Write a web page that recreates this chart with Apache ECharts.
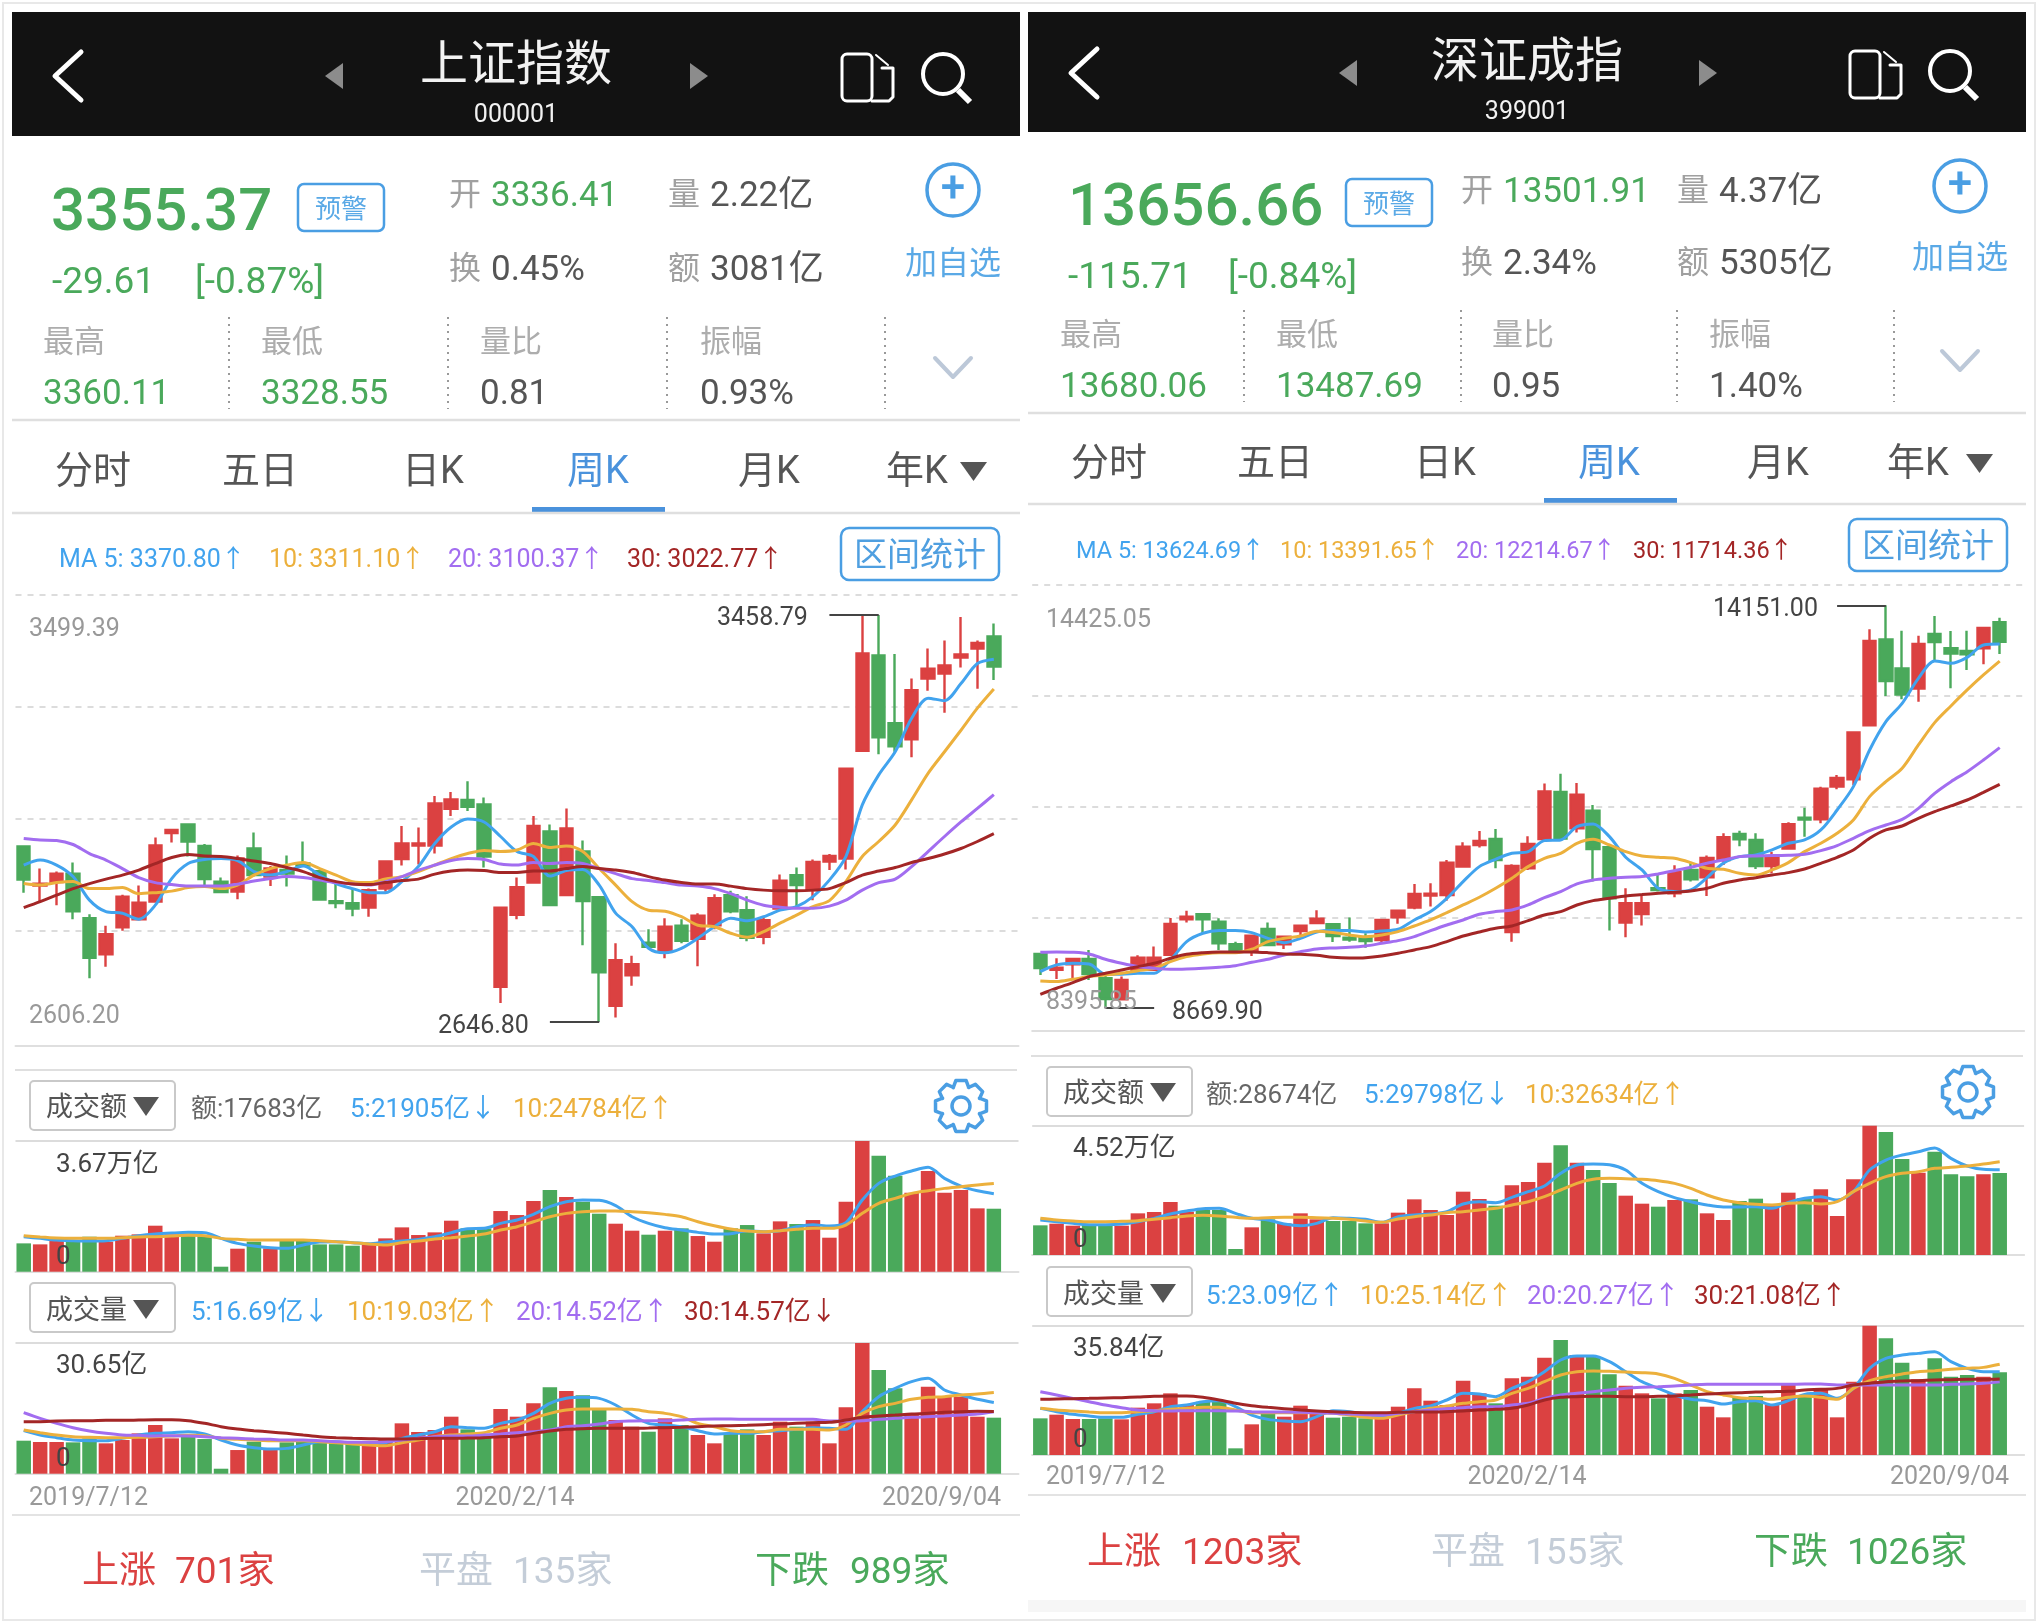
<!DOCTYPE html>
<html>
<head>
<meta charset="utf-8">
<style>html,body{margin:0;padding:0;background:#fff}#main{width:2039px;height:1624px}</style>
<script src="https://cdn.jsdelivr.net/npm/echarts@6/dist/echarts.min.js"></script>
</head>
<body>
<div id="main"></div>
<script type="text/javascript">
// weekly dates, 60 bars
var dates = ['2019/7/12','2019/7/19','2019/7/26','2019/8/2','2019/8/9','2019/8/16','2019/8/23','2019/8/30','2019/9/6','2019/9/13',
 '2019/9/20','2019/9/27','2019/9/30','2019/10/11','2019/10/18','2019/10/25','2019/11/1','2019/11/8','2019/11/15','2019/11/22',
 '2019/11/29','2019/12/6','2019/12/13','2019/12/20','2019/12/27','2020/1/3','2020/1/10','2020/1/17','2020/1/23','2020/2/7',
 '2020/2/14','2020/2/21','2020/2/28','2020/3/6','2020/3/13','2020/3/20','2020/3/27','2020/4/3','2020/4/10','2020/4/17',
 '2020/4/24','2020/4/30','2020/5/8','2020/5/15','2020/5/22','2020/5/29','2020/6/5','2020/6/12','2020/6/19','2020/6/24',
 '2020/7/3','2020/7/10','2020/7/17','2020/7/24','2020/7/31','2020/8/7','2020/8/14','2020/8/21','2020/8/28','2020/9/04'];

// 上证指数 [open, close, low, high]
var shKline = [
 [2997,2931,2905,2997],[2919,2923,2887,2953],[2926,2943,2880,2947],[2943,2868,2852,2965],[2854,2775,2734,2862],
 [2782,2822,2757,2839],[2836,2897,2829,2901],[2852,2885,2850,2919],[2887,2999,2885,3015],[3024,3030,3005,3032],
 [3041,3007,2977,3042],[2998,2932,2920,3002],[2927,2906,2905,2935],[2907,2973,2892,2979],[2993,2940,2937,3025],
 [2937,2953,2918,2958],[2950,2943,2917,2979],[2963,2959,2957,3007],[2948,2891,2890,2950],[2888,2884,2874,2922],
 [2884,2873,2858,2913],[2875,2910,2857,2913],[2913,2967,2907,2969],[2972,3003,2959,3038],[2999,3003,2961,3035],
 [2999,3083,2983,3098],[3072,3091,3058,3106],[3090,3076,3068,3127],[3081,2977,2955,3095],[2717,2875,2685,2875],
 [2861,2916,2852,2935],[2925,3038,2925,3058],[3027,2880,2878,3041],[2900,3033,2900,3073],[2987,2888,2800,3009],
 [2896,2746,2646.8,2897],[2679,2770,2656,2804],[2740,2762,2719,2779],[2805,2797,2795,2832],[2787,2837,2774,2854],
 [2839,2809,2804,2852],[2813,2859,2758,2864],[2840,2894,2832,2902],[2900,2868,2864,2909],[2870,2815,2808,2898],
 [2817,2850,2802,2858],[2873,2929,2872,2941],[2940,2920,2874,2955],[2910,2966,2890,2971],[2967,2978,2950,2982],
 [2973,3152,2951,3152],[3188,3382,3188,3458.79],[3378,3215,3181,3458.79],[3243,3197,3186,3381],[3211,3309,3175,3332],
 [3332,3352,3308,3392],[3342,3358,3264,3408],[3374,3380,3354,3455],[3392,3403,3312,3408],[3416,3356,3329,3442]];
var shMa5 = [2960,2970,2960,2937,2890,2867,2864,2852,2880,2933,2963,2971,2973,2969,2947,2940,2947,2958,2940,2923,
 2913,2905,2905,2927,2957,3003,3036,3052,3046,3017,2987,2977,2938,2949,2951,2920,2864,2837,2794,2785,
 2794,2814,2837,2854,2849,2857,2870,2877,2897,2930,2977,3080,3140,3186,3253,3293,3288,3322,3362,3370.8];
var shMa10 = [2923,2920,2925,2927,2913,2913,2915,2903,2905,2908,2915,2917,2913,2920,2940,2953,2960,2965,2953,2940,
 2927,2925,2932,2937,2947,2960,2973,2983,2989,2987,2990,3003,2995,2998,2987,2953,2920,2887,2870,2868,
 2857,2840,2837,2824,2816,2827,2844,2860,2877,2889,2927,2977,3007,3040,3090,3143,3186,3229,3273,3311.1];
var shMa20 = [3013,3010,3009,3001,2983,2970,2953,2935,2925,2921,2918,2918,2918,2922,2928,2933,2937,2935,2930,2925,
 2922,2920,2927,2937,2950,2960,2969,2973,2971,2962,2960,2965,2963,2965,2963,2953,2943,2933,2929,2925,
 2920,2918,2913,2903,2890,2880,2876,2874,2874,2878,2890,2910,2925,2932,2957,2987,3017,3046,3073,3100.37];
var shMa30 = [2875,2887,2900,2913,2923,2932,2940,2950,2963,2975,2981,2978,2977,2973,2968,2963,2955,2947,2935,2927,
 2922,2921,2925,2929,2932,2942,2948,2950,2949,2945,2945,2948,2948,2953,2957,2953,2950,2945,2937,2930,
 2925,2922,2922,2918,2913,2910,2909,2909,2910,2913,2925,2940,2948,2955,2965,2973,2982,2993,3007,3022.77];
var shAmount = [7956,7675,8611,8892,9828,8424,10109,10483,12917,10483,10764,10296,1404,6458,8424,6552,9173,8892,7675,7675,
 7301,7675,9360,12449,10296,11045,14321,12168,12168,17035,15912,19843,22932,20966,19656,16286,13478,11513,10390,11513,
 12168,10015,8424,12168,13104,10764,14134,13385,14508,9547,19656,36700,32573,26957,22183,28267,22183,22932,17784,17683];
var shAmountMa5 = [9828,9360,8892,8705,8611,8705,9360,10109,10577,10858,11045,10951,9360,7956,7207,6739,6552,7488,8330,8424,
 8143,7862,8330,8611,9079,9828,10951,12074,12168,13572,14508,16099,18252,19656,20124,20030,18533,15444,13572,12355,
 11700,11045,10577,10670,11513,11232,11513,12636,13198,12823,13759,20124,24804,26863,28267,29297,26208,24055,22745,21905];
var shAmountMa10 = [10109,9734,9454,9360,9360,9360,9547,9734,9828,10015,10202,10109,9360,9079,8892,8892,8892,8892,8705,8424,
 8143,7769,7488,8143,8611,9173,9547,10015,10577,11700,12636,14040,15444,16380,16848,17035,17035,16848,16567,16099,
 15444,14040,12917,11981,11419,11232,11513,11887,12168,12168,13104,16380,19188,20592,21996,22745,23400,23868,24336,24784];
var shVolume = [7.74,7.43,7.43,7.35,8.29,7.12,7.90,9.46,11.42,8.29,8.68,8.13,1.17,5.55,7.51,5.55,7.35,7.90,7.51,7.12,
 6.96,6.96,7.90,11.81,9.78,10.24,13.37,10.40,9.07,15.17,13.37,16.50,20.25,19.39,18.38,14.94,12.59,11.03,9.85,12.98,
 11.42,9.07,7.12,9.46,10.40,9.07,12.20,11.03,12.20,7.12,15.56,30.65,24.32,20.02,14.15,20.41,18.06,18.06,13.37,13.14];
var shVolMa5 = [10.09,9.07,8.45,7.90,7.74,7.74,8.29,9.07,9.46,9.62,9.85,9.31,7.90,6.73,6.10,5.79,5.94,6.73,7.51,7.51,
 7.12,7.12,7.27,8.29,9.07,9.85,11.03,10.79,10.64,11.81,12.59,14.15,16.50,17.67,17.91,17.67,16.11,13.76,11.81,11.42,
 11.03,10.09,9.31,9.46,9.46,9.85,10.09,10.40,10.79,10.64,10.40,14.55,18.06,20.02,21.58,22.37,19.63,18.46,17.44,16.69];
var shVolMa10 = [10.24,9.62,9.07,8.68,8.52,8.45,8.45,8.52,8.68,8.84,8.99,8.91,8.29,8.05,7.90,7.74,7.74,7.74,7.51,7.27,
 6.96,6.73,6.57,7.27,7.90,8.68,9.07,9.31,9.62,10.64,11.42,12.98,14.15,14.94,15.17,15.17,15.17,15.09,14.55,14.15,
 13.37,11.81,11.03,10.09,9.85,9.85,10.40,10.40,10.40,10.24,11.42,14.15,15.72,16.50,17.44,17.91,18.06,18.46,18.69,19.03];
var shVolMa20 = [14.31,12.98,11.81,10.79,10.01,9.46,9.07,8.99,8.84,8.91,8.84,8.68,8.45,8.29,8.13,8.05,7.90,7.90,7.74,7.51,
 7.35,7.35,7.51,7.90,8.29,8.68,8.84,8.84,9.07,9.31,9.62,9.85,10.24,11.03,11.26,11.65,12.20,12.36,12.43,12.43,
 12.59,12.75,12.82,12.82,12.75,12.75,12.75,12.75,12.75,12.36,12.36,12.43,12.75,12.98,13.22,13.37,13.53,13.76,14.00,14.52];
var shVolMa30 = [12.20,12.20,12.36,12.43,12.43,12.51,12.51,12.59,12.67,12.67,12.43,11.81,11.03,10.48,10.09,9.78,9.46,9.07,8.68,8.45,
 8.29,8.21,8.13,8.13,8.21,8.29,8.29,8.37,8.45,8.68,8.84,9.46,10.01,10.40,10.56,10.64,10.64,10.64,10.71,10.79,
 10.87,11.03,11.18,11.26,11.34,11.50,11.65,11.81,11.96,12.04,12.59,13.22,13.53,13.76,14.00,14.15,14.39,14.55,14.62,14.57];

// 深证成指 [open, close, low, high]
var szKline = [
 [9405,9215,9119,9423],[9188,9219,9065,9346],[9265,9337,9074,9351],[9337,9133,9051,9460],[9074,8793,8669.9,9142],
 [8788,9051,8770,9097],[9188,9355,9178,9387],[9188,9355,9178,9505],[9392,9814,9383,9895],[9877,9913,9832,9995],
 [9945,9877,9678,9950],[9845,9550,9460,9891],[9537,9446,9437,9573],[9460,9655,9378,9659],[9746,9528,9514,9832],
 [9537,9641,9473,9650],[9718,9791,9664,9805],[9827,9886,9823,10000],[9809,9650,9569,9814],[9628,9600,9573,9900],
 [9618,9582,9491,9687],[9596,9868,9551,9877],[9904,9995,9818,10004],[10036,10222,10013,10358],[10199,10226,10050,10367],
 [10208,10648,10131,10685],[10594,10866,10580,10925],[10889,10943,10853,11079],[10971,10685,10571,11107],[9705,10603,9573,10626],
 [10571,10903,10549,11007],[10971,11619,10966,11724],[11610,10975,10966,11860],[11116,11574,11057,11733],[11356,10834,10390,11433],
 [10857,10163,9723,10857],[9832,10095,9632,10299],[9950,10095,9791,10208],[10299,10276,10254,10480],[10231,10517,10177,10612],
 [10549,10422,10390,10639],[10449,10712,10195,10744],[10685,10993,10617,11048],[11039,10966,10871,11084],[10957,10603,10562,11048],
 [10603,10730,10503,10798],[10839,11170,10834,11197],[11261,11234,11002,11397],[11238,11656,11184,11683],[11683,11801,11647,11842],
 [11783,12422,11705,12422],[12518,13666,12513,13824],[13688,13121,12917,14151],[13293,12935,12872,13806],[13017,13625,12840,13738],
 [13761,13652,13384,14006],[13566,13493,13021,13802],[13529,13484,13271,13806],[13566,13842,13348,13861],[13920,13656,13489,13983]];
var szMa5 = [9165,9256,9278,9269,9129,9129,9142,9142,9324,9573,9687,9723,9723,9696,9618,9559,9618,9705,9723,9723,
 9705,9718,9741,9868,9982,10163,10390,10594,10694,10775,10798,10948,10957,11138,11175,11002,10721,10549,10299,10254,
 10276,10444,10639,10730,10753,10821,10912,10957,11093,11365,11683,12182,12568,12817,13157,13393,13362,13443,13611,13624.69];
var szMa10 = [9038,9029,9060,9097,9119,9142,9178,9210,9301,9369,9405,9423,9423,9469,9573,9618,9650,9714,9696,9664,
 9641,9664,9709,9786,9868,9968,10072,10177,10299,10435,10594,10707,10775,10912,10966,10889,10798,10739,10721,10707,
 10648,10571,10558,10503,10480,10549,10648,10798,10912,11048,11229,11547,11751,11932,12250,12554,12781,12999,13203,13391.65];
var szMa20 = [9428,9433,9428,9405,9333,9278,9233,9210,9197,9201,9210,9224,9246,9292,9333,9392,9437,9473,9487,9496,
 9514,9550,9587,9641,9723,9800,9868,9945,9982,10004,10072,10172,10254,10358,10412,10435,10449,10458,10494,10539,
 10585,10639,10685,10730,10739,10744,10748,10762,10812,10880,10980,11084,11161,11238,11388,11592,11751,11887,12046,12214.67];
var szMa30 = [8856,8938,9015,9097,9142,9188,9233,9278,9346,9401,9423,9433,9433,9433,9423,9405,9401,9387,9360,9351,
 9355,9378,9414,9460,9505,9573,9650,9705,9755,9786,9859,9936,9982,10072,10131,10163,10195,10213,10231,10245,
 10263,10299,10367,10412,10444,10480,10512,10562,10639,10721,10821,10980,11093,11147,11252,11342,11420,11501,11606,11714.36];
var szAmount = [10369,10951,10252,10485,10485,10252,14563,15029,18524,15145,15728,15728,2097,9670,12466,11068,14563,12466,11883,11883,
 11068,11068,14796,19456,15728,13980,22135,19572,17242,24349,25514,32271,38329,32271,29708,25164,20737,17941,16893,19223,
 19456,14563,12233,18873,19689,17708,21786,19922,22951,13631,26446,45200,42989,33552,28776,36115,28193,27494,28193,28674];
var szAmountMa5 = [12233,11650,11068,10602,10602,10835,11650,12815,14330,15378,16194,16310,14563,12815,12233,10835,10252,11068,13048,12815,
 12466,11417,13398,13980,14330,15145,17825,18640,18291,20155,22135,24116,28543,31455,31805,31572,29708,25048,22135,20038,
 18640,17475,16776,16776,16893,16310,18407,19805,20388,19223,22135,29708,33203,34950,36115,37397,33785,31106,29941,29798];
var szAmountMa10 = [12815,12233,11883,11650,11650,11767,12000,12466,13048,13631,13864,13631,13165,12815,13048,13165,13165,13048,12815,12466,
 11883,11417,12582,13398,13980,14796,15145,15728,16310,17475,18640,20388,22718,25048,26446,26795,26679,26446,25980,25048,
 23300,20970,19223,18291,17708,17475,18058,18291,17825,18640,22135,25048,27378,28543,29125,30290,30640,31106,31805,32634];
var szVolume = [10.16,11.18,9.98,9.98,10.16,9.88,13.12,14.32,17.09,13.86,14.78,14.78,1.85,8.50,11.55,10.62,13.67,11.55,10.35,10.62,
 10.16,10.16,13.39,18.47,15.06,13.86,20.60,17.09,14.32,21.25,21.71,26.97,31.87,27.71,27.25,22.35,19.21,17.09,15.70,17.09,
 18.01,13.39,10.44,15.98,16.35,13.86,19.40,16.17,18.47,10.44,20.32,35.84,32.33,25.59,20.97,26.79,21.71,22.17,21.71,22.91];
var szVolMa5 = [12.93,12.01,11.27,10.81,10.44,10.44,11.27,12.01,13.39,13.86,14.78,15.06,13.39,11.08,9.88,9.42,9.24,10.62,12.29,12.01,
 11.36,10.44,11.55,12.93,13.58,15.24,17.09,16.90,16.17,18.47,20.32,23.09,26.33,27.43,27.43,25.86,23.09,20.32,18.47,16.63,
 15.43,15.06,14.13,14.78,15.06,13.86,15.06,16.81,17.09,15.70,18.47,24.02,26.79,27.71,28.17,28.63,25.86,24.02,23.09,23.09];
var szVolMa10 = [12.93,12.47,12.19,11.92,11.73,11.73,12.01,12.29,12.65,12.93,13.21,13.21,12.47,11.73,11.73,11.73,11.73,11.73,11.55,11.08,
 10.44,10.16,11.08,12.01,12.93,13.58,14.32,14.78,15.24,17.09,18.47,20.32,22.17,23.09,23.28,23.18,23.00,22.82,22.45,21.25,
 19.40,17.55,16.63,15.89,15.70,15.43,15.98,16.35,15.98,15.43,18.47,20.60,21.71,22.45,23.09,23.37,23.74,24.02,24.29,25.14];
var szVolMa20 = [17.55,16.63,15.70,14.78,13.86,13.12,12.47,12.29,12.19,12.29,12.29,12.29,12.19,12.01,11.92,11.92,11.82,11.73,11.55,11.36,
 11.18,11.08,11.55,12.01,12.47,12.84,13.12,13.39,13.39,13.86,14.32,15.70,16.63,17.09,17.55,18.01,18.47,18.75,18.94,19.12,
 19.40,19.58,19.58,19.58,19.58,19.58,19.58,19.67,19.67,19.40,19.40,19.40,19.40,19.40,19.40,19.40,19.58,19.67,19.86,20.27];
var szVolMa30 = [15.43,15.52,15.61,15.70,15.80,15.89,16.07,16.26,16.35,16.35,15.98,15.24,14.32,13.67,13.21,12.84,12.47,12.19,12.01,11.82,
 11.73,11.73,11.82,11.92,11.92,12.01,12.19,12.47,12.65,12.93,13.86,15.24,15.98,16.17,16.26,16.26,16.17,16.17,16.26,16.35,
 16.63,16.90,17.09,17.27,17.46,17.55,17.64,18.01,18.20,18.47,19.40,19.86,20.32,20.51,20.60,20.78,20.88,20.97,20.97,21.08];

var shPriceTicks = [3499.39,3276.09,3052.80,2829.50];
var szPriceTicks = [14425.05,12917.75,11410.45,9903.15];
var tabs = ['分时','五日','日K','周K','月K','年K'];

var RED='#db4141', GREEN='#4aa95b', BLUE='#41a3ee', ORANGE='#ecb03c', PURPLE='#a26df0', DARK='#a32626';
var LINK='#4a9ee3', FONT='Roboto, "Noto Sans CJK SC", sans-serif';

// ---- chrome helpers
var g = [];
function text(s,x,y,size,color,align,weight){
  g.push({type:'text',z:100,silent:true,style:{text:s,x:x,y:y+3,font:(weight||400)+' '+size+'px '+FONT,fill:color,
    align:align||'left',verticalAlign:'middle',textAlign:align||'left',textVerticalAlign:'middle'}});
}
function line(x1,y1,x2,y2,color,w,dash){
  g.push({type:'line',z:90,silent:true,shape:{x1:x1,y1:y1,x2:x2,y2:y2},style:{stroke:color,lineWidth:w||2,lineDash:dash||null}});
}
function rect(x,y,w,h,fill,stroke,lw,r){
  g.push({type:'rect',z:50,silent:true,shape:{x:x,y:y,width:w,height:h,r:r||0},style:{fill:fill||'none',stroke:stroke||'none',lineWidth:lw||0}});
}
function tri(pts,fill){ g.push({type:'polygon',z:95,silent:true,shape:{points:pts},style:{fill:fill}}); }
function poly(pts,color,w){ g.push({type:'polyline',z:95,silent:true,shape:{points:pts},style:{stroke:color,lineWidth:w,fill:'none',lineJoin:'round',lineCap:'round'}}); }
function circ(cx,cy,r,color,w){ g.push({type:'circle',z:95,silent:true,shape:{cx:cx,cy:cy,r:r},style:{stroke:color,lineWidth:w,fill:'none'}}); }
function gear(cx,cy){
  var pts=[];
  for(var i=0;i<8;i++){
    var a=i*Math.PI/4-Math.PI/2, d=0.2;
    [[a-2*d,20],[a-d,26],[a+d,26],[a+2*d,20]].forEach(function(p){pts.push([cx+p[1]*Math.cos(p[0]),cy+p[1]*Math.sin(p[0])]);});
  }
  pts.push(pts[0]);
  poly(pts,LINK,3.5); circ(cx,cy,9,LINK,3.5);
}

// one phone screenshot; p holds where its chrome sits
function panel(p){
  var l=p.left, r=p.right;
  rect(l,12,r-l,p.headBottom-12,'#121212');
  poly([[p.back+26,p.head-24],[p.back,p.head],[p.back+26,p.head+24]],'#fff',5);
  tri([[p.triL+18,p.head-13],[p.triL,p.head],[p.triL+18,p.head+13]],'#8c8c8c');
  tri([[p.triR,p.head-13],[p.triR+18,p.head],[p.triR,p.head+13]],'#8c8c8c');
  text(p.title,p.mid,p.head-11,48,'#f2f2f2','center');
  text(p.code,p.mid,p.head+37,25,'#f2f2f2','center');
  // phone and search icons
  rect(p.phone,p.head-22,30,47,'none','#fff',3,5);
  poly([[p.phone+30,p.head+25],[p.phone+47,p.head+25],[p.phone+51,p.head+21],[p.phone+51,p.head-8],[p.phone+40,p.head-8]],'#fff',3);
  poly([[p.phone+34,p.head-21],[p.phone+46,p.head-11]],'#fff',2);
  circ(p.search+20,p.head-2,20,'#fff',4);
  line(p.search+35,p.head+14,p.search+47,p.head+26,'#fff',6);
  // price block
  text(p.price,p.priceX,p.priceY+2,60,GREEN,'left',500);
  rect(p.warnX,p.priceY-26,86,47,'none',LINK,2.5,6);
  text('预警',p.warnX+43,p.priceY-2,26,'#5aa9e6','center');
  text(p.chg,p.chgX,p.priceY+71,37,GREEN);
  text(p.pct,p.pctX,p.priceY+71,37,GREEN);
  var a=p.colA, b=p.colB, ax=a+42, bx=b+42;
  text('开',a,p.row1,32,'#a0a0a0'); text(p.open,ax,p.row1,35,GREEN);
  text('量',b,p.row1,32,'#a0a0a0'); text(p.vol,bx,p.row1,35,'#555');
  text('换',a,p.row2,32,'#a0a0a0'); text(p.turn,ax,p.row2,35,'#555');
  text('额',b,p.row2,32,'#a0a0a0'); text(p.amt,bx,p.row2,35,'#555');
  circ(p.plus,p.row1-4,26,LINK,3.5);
  text('+',p.plus,p.row1-6,44,LINK,'center',500);
  text('加自选',p.plus,p.row2-5,32,'#5aa9e6','center');
  // four stat cells
  p.stats.forEach(function(st,i){
    text(st[0],p.statX[i],p.statY,31,'#adadad');
    text(st[1],p.statX[i],p.statY+51,35,st[2]);
    line(p.dots[i],p.statY-24,p.dots[i],p.statY+68,'#999',2,[2,5]);
  });
  poly([[p.plus-18,p.statY+17],[p.plus,p.statY+36],[p.plus+18,p.statY+17]],'#bcc8d8',4);
  line(l,p.rule1,r,p.rule1,'#dfdfdf',2.5);
  // tabs
  tabs.forEach(function(t,i){
    text(t,p.tabX[i],p.tabY,38,i===3?'#4a92dc':'#555','center');
  });
  tri([[p.tabTri,p.tabY-8],[p.tabTri+27,p.tabY-8],[p.tabTri+13.5,p.tabY+11]],'#555');
  line(l,p.rule2,r,p.rule2,'#dfdfdf',2.5);
  rect(p.under,p.rule2-6,133,6,'#4a92dc');
  // MA legend
  p.maLegend.forEach(function(m,i){ text(m,p.maX[i],p.maY,p.maSize,[BLUE,ORANGE,PURPLE,DARK][i]); });
  rect(p.statBox,p.maY-30,158,52,'none',LINK,2.5,8);
  text('区间统计',p.statBox+79,p.maY-3,33,'#4f9fe0','center');
  // price labels
  text(p.hiAxis,p.axisX,p.hiAxisY,25,'#999');
  text(p.loAxis,p.axisX,p.loAxisY,25,'#999');
  text(p.hiMark,p.hiMarkX,p.hiMarkY,25,'#444');
  text(p.loMark,p.loMarkX,p.loMarkY,25,'#444');
  // amount strip
  line(l+3,p.amtRule,r-3,p.amtRule,'#dfdfdf',2);
  rect(p.boxX,p.amtBox,145,49,'#fff','#c9c9c9',2,4);
  text('成交额',p.boxX+16,p.amtBox+25,27,'#555');
  tri([[p.boxX+103,p.amtBox+16],[p.boxX+129,p.amtBox+16],[p.boxX+116,p.amtBox+35]],'#555');
  p.amtLegend.forEach(function(m,i){ text(m,p.amtX[i],p.amtBox+26,26,['#666',BLUE,ORANGE][i]); });
  gear(p.gearX,p.amtBox+25);
  text(p.amtTop,p.axisLbl,p.amtTopY,26,'#444');
  text('0',p.axisLbl,p.amtZeroY,26,'#444');
  // volume strip
  rect(p.boxX,p.volBox,145,49,'#fff','#c9c9c9',2,4);
  text('成交量',p.boxX+16,p.volBox+26,27,'#555');
  tri([[p.boxX+103,p.volBox+17],[p.boxX+129,p.volBox+17],[p.boxX+116,p.volBox+36]],'#555');
  p.volLegend.forEach(function(m,i){ text(m,p.volX[i],p.volBox+27,26,[BLUE,ORANGE,PURPLE,DARK][i]); });
  text(p.volTop,p.axisLbl,p.volTopY,26,'#444');
  text('0',p.axisLbl,p.volZeroY,26,'#444');
  // date labels
  text(dates[0],p.dateX[0],p.dateY,25,'#999');
  text(dates[30],p.dateX[1],p.dateY,25,'#999','center');
  text(dates[59],p.dateX[2],p.dateY,25,'#999','right');
  line(l,p.rule3,r,p.rule3,'#e3e3e3',2);
  // breadth row
  p.breadth.forEach(function(x,i){
    var c=[RED,'#c4cdd8',GREEN][i];
    text(x[0],x[1],p.breadthY,37,c);
    text(x[2],x[3],p.breadthY,37,c);
  });
}

rect(3,3,2032,1617,'none','#e8e8e8',2);
rect(1028,1600,998,12,'#f6f6f6');

panel({left:12,right:1020,headBottom:136,head:76,back:55,triL:325,triR:690,mid:516,title:'上证指数',code:'000001',phone:842,search:923,
  price:'3355.37',priceX:51,priceY:210,warnX:298,chg:'-29.61',chgX:52,pct:'[-0.87%]',pctX:195,
  colA:449,colB:668,row1:194,row2:268,open:'3336.41',vol:'2.22亿',turn:'0.45%',amt:'3081亿',plus:953,
  stats:[['最高','3360.11',GREEN],['最低','3328.55',GREEN],['量比','0.81','#555'],['振幅','0.93%','#555']],
  statX:[43,261,480,700],statY:341,dots:[229,448,667,885],rule1:420,
  tabX:[93,260,433,598,769,917],tabY:470,tabTri:960,rule2:513,under:532,
  maLegend:['MA 5: 3370.80↑','10: 3311.10↑','20: 3100.37↑','30: 3022.77↑'],maX:[59,269,448,627],maY:558,maSize:25,statBox:841,
  hiAxis:'3499.39',loAxis:'2606.20',axisX:29,hiAxisY:627,loAxisY:1014,
  hiMark:'3458.79',hiMarkX:717,hiMarkY:616,loMark:'2646.80',loMarkX:438,loMarkY:1024,
  amtRule:1070,boxX:30,amtBox:1081,amtLegend:['额:17683亿','5:21905亿↓','10:24784亿↑'],amtX:[191,350,513],gearX:961,
  axisLbl:56,amtTop:'3.67万亿',amtTopY:1162,amtZeroY:1254,
  volBox:1283,volLegend:['5:16.69亿↓','10:19.03亿↑','20:14.52亿↑','30:14.57亿↓'],volX:[191,347,516,684],
  volTop:'30.65亿',volTopY:1363,volZeroY:1456,dateX:[29,515,1001],dateY:1496,rule3:1515,
  breadth:[['上涨',82,'701家',175],['平盘',419,'135家',513],['下跌',755,'989家',850]],breadthY:1571});

panel({left:1028,right:2026,headBottom:132,head:73,back:1071,triL:1339,triR:1699,mid:1527,title:'深证成指',code:'399001',phone:1850,search:1930,
  price:'13656.66',priceX:1068,priceY:205,warnX:1346,chg:'-115.71',chgX:1068,pct:'[-0.84%]',pctX:1228,
  colA:1461,colB:1677,row1:190,row2:262,open:'13501.91',vol:'4.37亿',turn:'2.34%',amt:'5305亿',plus:1960,
  stats:[['最高','13680.06',GREEN],['最低','13487.69',GREEN],['量比','0.95','#555'],['振幅','1.40%','#555']],
  statX:[1060,1276,1492,1709],statY:334,dots:[1244,1461,1677,1894],rule1:413,
  tabX:[1109,1275,1445,1609,1778,1918],tabY:462,tabTri:1966,rule2:504,under:1544,
  maLegend:['MA 5: 13624.69↑','10: 13391.65↑','20: 12214.67↑','30: 11714.36↑'],maX:[1076,1280,1456,1633],maY:549,maSize:23.5,statBox:1849,
  hiAxis:'14425.05',loAxis:'8395.85',axisX:1046,hiAxisY:618,loAxisY:1000,
  hiMark:'14151.00',hiMarkX:1713,hiMarkY:607,loMark:'8669.90',loMarkX:1172,loMarkY:1010,
  amtRule:1056,boxX:1047,amtBox:1067,amtLegend:['额:28674亿','5:29798亿↓','10:32634亿↑'],amtX:[1206,1364,1525],gearX:1968,
  axisLbl:1073,amtTop:'4.52万亿',amtTopY:1146,amtZeroY:1237,
  volBox:1267,volLegend:['5:23.09亿↑','10:25.14亿↑','20:20.27亿↑','30:21.08亿↑'],volX:[1206,1360,1527,1694],
  volTop:'35.84亿',volTopY:1346,volZeroY:1437,dateX:[1046,1527,2009],dateY:1475,rule3:1495,
  breadth:[['上涨',1087,'1203家',1182],['平盘',1431,'155家',1525],['下跌',1754,'1026家',1847]],breadthY:1552});

// ---- chart grids
var categories = dates.concat(['']);   // spare band so the rules run past the last bar
var grids=[], xAxes=[], yAxes=[], series=[];

function addAxes(gr,yMin,yMax,ticks,offset){
  var i=grids.length;
  grids.push(gr);
  xAxes.push({type:'category',gridIndex:i,data:categories,offset:offset,
    axisLine:{show:true,onZero:false,lineStyle:{color:'#dfdfdf',width:2}},axisTick:{show:false},axisLabel:{show:false},splitLine:{show:false}});
  yAxes.push({type:'value',gridIndex:i,min:yMin,max:yMax,scale:true,axisLine:{show:false},axisLabel:{show:false},
    axisTick:{show:false,customValues:ticks},
    splitLine:{show:true,lineStyle:{color:'#dcdcdc',width:2,type:offset?[6,6]:'solid'}}});
  return i;
}
function maLine(i,values,color,width){
  series.push({type:'line',xAxisIndex:i,yAxisIndex:i,data:values,smooth:0.3,showSymbol:false,silent:true,
    lineStyle:{color:color,width:width||3},itemStyle:{color:color},z:5});
}
function candles(i,data,hi,lo){
  series.push({type:'candlestick',xAxisIndex:i,yAxisIndex:i,data:data,barWidth:13,silent:true,
    itemStyle:{color:RED,color0:GREEN,borderColor:RED,borderColor0:GREEN,borderWidth:2.4},
    markLine:{silent:true,symbol:'none',animation:false,label:{show:false},lineStyle:{color:'#444',width:2,type:'solid'},
      data:[[{coord:[hi[0],hi[1]]},{coord:[hi[2],hi[1]]}],[{coord:[lo[0],lo[1]]},{coord:[lo[2],lo[1]]}]]}});
}
function bars(i,values,kline){
  series.push({type:'bar',xAxisIndex:i,yAxisIndex:i,barWidth:14.5,silent:true,
    data:values.map(function(v,k){return {value:v,itemStyle:{color:kline[k][1]>=kline[k][0]?RED:GREEN}};})});
}

var k;
k=addAxes({left:15.5,top:594.7,width:1003,height:447.7},2606.20,3499.39,shPriceTicks,3);
candles(k,shKline,[49,3458.79,52],[32,2646.80,35]);
maLine(k,shMa5,BLUE);maLine(k,shMa10,ORANGE);maLine(k,shMa20,PURPLE);maLine(k,shMa30,DARK);
k=addAxes({left:15.5,top:1141,width:1003,height:130.7},0,36700,[36700],0);
bars(k,shAmount,shKline);maLine(k,shAmountMa5,BLUE);maLine(k,shAmountMa10,ORANGE);
k=addAxes({left:15.5,top:1343,width:1003,height:130.7},0,30.65,[30.65],0);
bars(k,shVolume,shKline);maLine(k,shVolMa5,BLUE);maLine(k,shVolMa10,ORANGE);maLine(k,shVolMa20,PURPLE);maLine(k,shVolMa30,DARK);

k=addAxes({left:1032.2,top:585.2,width:991.9,height:442.9},8395.85,14425.05,szPriceTicks,3);
candles(k,szKline,[49,14151,52],[7,8669.90,4]);
maLine(k,szMa5,BLUE);maLine(k,szMa10,ORANGE);maLine(k,szMa20,PURPLE);maLine(k,szMa30,DARK);
k=addAxes({left:1032.2,top:1125.7,width:991.9,height:129.3},0,45200,[45200],0);
bars(k,szAmount,szKline);maLine(k,szAmountMa5,BLUE);maLine(k,szAmountMa10,ORANGE);
k=addAxes({left:1032.2,top:1325.7,width:991.9,height:129.3},0,35.84,[35.84],0);
bars(k,szVolume,szKline);maLine(k,szVolMa5,BLUE);maLine(k,szVolMa10,ORANGE);maLine(k,szVolMa20,PURPLE);maLine(k,szVolMa30,DARK);

var myChart = echarts.init(document.getElementById('main'));
myChart.setOption({
  animation:false,
  backgroundColor:'#fff',
  textStyle:{fontFamily:FONT},
  grid:grids,xAxis:xAxes,yAxis:yAxes,series:series,
  graphic:{elements:g}
});
</script>
</body>
</html>
